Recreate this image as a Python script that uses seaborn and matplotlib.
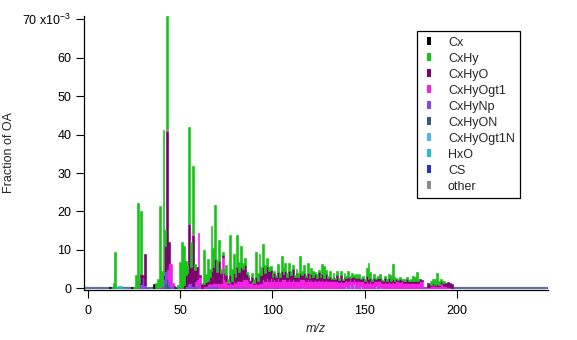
import numpy as np
import pandas as pd
import matplotlib
matplotlib.use("Agg")
import matplotlib.pyplot as plt
from matplotlib.lines import Line2D
import seaborn as sns

# ---------------- data (fraction of OA, units of 1e-3) ----------------
mz = list(range(12, 202))  # 190 m/z values, rows of 10 below start at 12, 22, 32 ...

CxHy = [
    0, 0.2, 1.5, 9.4, 0, 0, 0, 0, 0, 0,                 # 12-21
    0, 0, 0, 0.3, 3.4, 22.1, 1.0, 16.5, 0, 0,           # 22-31
    0, 0, 0, 0, 0, 1.3, 2.5, 21.0, 4.0, 37.5,           # 32-41
    4.2, 29.2, 0, 0, 0, 0, 0, 0.8, 6.8, 12.1,           # 42-51
    10.0, 3.5, 2.0, 25.0, 6.5, 17.5, 1.5, 0, 0, 0,      # 52-61
    0.5, 9.0, 2.0, 5.7, 2.0, 11.8, 5.0, 14.2, 3.0, 5.6, # 62-71
    1.0, 0.7, 1.0, 2.6, 1.0, 10.4, 3.0, 5.0, 2.0, 8.4,  # 72-81
    2.5, 5.6, 1.5, 2.0, 0.5, 0.5, 0, 1.0, 1.0, 6.4,     # 82-91
    2.0, 5.0, 2.0, 5.9, 2.0, 2.2, 1.0, 1.0, 1.0, 0.5,   # 92-101
    0.5, 2.0, 1.0, 4.0, 1.5, 2.0, 1.0, 2.0, 1.0, 1.0,   # 102-111
    0.5, 1.0, 1.0, 4.5, 1.0, 2.0, 0.5, 2.5, 0.5, 1.5,   # 112-121
    1.5, 0.5, 1.0, 0.5, 0.5, 2.5, 3.0, 1.0, 0.5, 1.5,   # 122-131
    0.5, 1.0, 0.5, 1.0, 0.5, 1.0, 0.3, 1.0, 0.5, 1.5,   # 132-141
    0.5, 1.0, 0.5, 1.0, 0.3, 1.0, 0.3, 0.5, 0.5, 2.0,   # 142-151
    4.0, 1.5, 0.5, 1.0, 0.3, 0.5, 1.0, 0.3, 0.3, 0.5,   # 152-161
    0.5, 1.0, 1.5, 4.0, 1.0, 0.3, 0.3, 0.5, 0.3, 0.3,   # 162-171
    0.3, 0.5, 0.3, 0.5, 1.5, 1.0, 2.5, 0.5, 0, 0,       # 172-181
    0, 0, 0, 0, 1.0, 1.0, 1.5, 3.0, 1.0, 0.5,           # 182-191
    0.5, 0.3, 0, 0, 0, 0, 0, 0, 0, 0,                   # 192-201
]

CxHyO = [
    0, 0, 0, 0, 0, 0, 0, 0, 0, 0,
    0, 0, 0, 0, 0, 0, 0.3, 2.6, 0.5, 8.0,
    0, 0, 0, 0, 0, 0, 0, 0, 0, 1.0,
    6.5, 36.0, 5.5, 0, 0, 0.5, 0, 0, 0, 0,
    0.9, 3.0, 3.0, 15.2, 4.0, 13.5, 3.0, 3.0, 0, 0.5,
    1.0, 0.5, 1.0, 1.0, 1.5, 3.5, 4.0, 6.0, 3.0, 5.5,
    2.5, 0.5, 1.5, 1.5, 0.5, 1.5, 1.0, 2.0, 1.5, 3.5,
    2.5, 3.5, 2.5, 3.5, 1.5, 1.0, 0.5, 1.0, 0.5, 1.5,
    1.0, 2.0, 2.0, 3.0, 2.0, 3.0, 2.5, 2.0, 1.0, 1.5,
    1.0, 1.5, 1.0, 2.0, 1.5, 2.0, 1.0, 2.0, 1.5, 2.5,
    1.0, 1.5, 1.0, 1.5, 1.0, 1.5, 1.0, 1.5, 1.0, 1.5,
    1.0, 1.5, 1.0, 2.0, 1.0, 1.5, 1.0, 1.5, 1.0, 1.0,
    0.5, 1.0, 0.5, 1.5, 0.5, 1.5, 0.5, 1.0, 0.5, 1.0,
    0.5, 1.0, 0.5, 1.0, 0.5, 1.0, 0.5, 1.0, 0.5, 1.5,
    1.0, 1.0, 0.5, 1.0, 0.5, 1.0, 1.0, 0.5, 0.5, 1.0,
    0.5, 1.0, 0.5, 0.8, 0.5, 0.5, 0.3, 0.8, 0.3, 0.5,
    0.5, 1.0, 0.5, 0.5, 0.5, 0.5, 0.5, 0.5, 0.3, 0.3,
    0, 0, 1.0, 0.8, 0.3, 0.5, 0.3, 0.5, 0.3, 0.5,
    0.5, 1.0, 1.0, 1.2, 1.2, 0.8, 0, 0, 0, 0,
]

CxHyOgt1 = [
    0, 0, 0, 0, 0, 0, 0, 0, 0, 0,
    0, 0, 0, 0, 0, 0, 0, 0, 0, 0,
    0, 0, 0, 0, 0, 0, 0, 0, 0, 0,
    0, 0, 4.5, 5.5, 1.0, 0, 0, 0, 0, 0,
    0, 0, 0, 0.5, 0, 0, 0, 2.0, 13.5, 3.0,
    0, 0.5, 0.5, 0.5, 1.0, 0.5, 1.0, 1.0, 0.5, 1.5,
    1.5, 8.2, 2.5, 2.0, 1.0, 1.5, 1.0, 1.5, 1.5, 1.5,
    1.5, 2.0, 2.0, 2.5, 2.0, 2.0, 1.5, 2.0, 1.0, 1.5,
    1.0, 2.0, 1.5, 2.0, 2.0, 2.5, 2.0, 2.5, 2.0, 2.5,
    2.0, 2.5, 2.0, 2.5, 2.0, 2.5, 2.0, 2.5, 2.0, 2.5,
    2.0, 2.5, 2.0, 2.5, 2.0, 2.5, 2.0, 2.5, 1.8, 2.2,
    2.0, 2.2, 1.8, 2.2, 2.0, 2.2, 1.8, 2.2, 1.8, 2.0,
    1.8, 2.0, 1.8, 2.0, 1.6, 2.0, 1.6, 2.0, 1.6, 2.0,
    1.5, 2.0, 1.5, 1.8, 1.5, 1.8, 1.5, 1.8, 1.5, 1.8,
    1.5, 1.8, 1.5, 1.8, 1.4, 1.8, 1.4, 1.6, 1.4, 1.6,
    1.4, 1.6, 1.4, 1.6, 1.5, 1.8, 1.8, 1.6, 1.8, 1.5,
    1.4, 1.5, 1.3, 1.5, 1.3, 1.5, 1.3, 1.5, 2.0, 1.8,
    0, 0, 0.3, 0.3, 0.5, 0.8, 0.5, 0.6, 0.5, 1.5,
    1.0, 0.5, 0.5, 0.4, 0.3, 0.2, 0, 0, 0, 0,
]

CxHyNp = [
    0, 0, 0, 0, 0, 0, 0, 0, 0, 0,
    0, 0, 0, 0, 0, 0, 1.2, 1.0, 3.0, 0.8,
    0, 0, 0, 0, 0, 0, 0, 0.3, 0.5, 2.5,
    3.5, 2.5, 1.5, 0.7, 0.5, 0, 0, 0, 0, 0,
    0, 0.5, 1.0, 1.0, 1.5, 0.5, 1.5, 0.5, 1.0, 0,
    0, 0, 0, 0.5, 0.5, 0.5, 0.5, 0.5, 0.5, 0,
    0, 0, 0, 0, 0, 0.5, 0, 0.5, 0, 0.5,
    0.3, 0, 0.5, 0, 0.3, 0, 0, 0, 0, 0,
    0, 0, 0, 0.5, 0, 0.3, 0, 0.3, 0, 0,
    0, 0.3, 0, 0, 0.3, 0, 0, 0, 0, 0,
    0, 0, 0, 0, 0, 0, 0, 0, 0, 0,
    0, 0, 0, 0, 0, 0, 0, 0, 0, 0,
    0, 0, 0, 0, 0, 0, 0, 0, 0, 0,
    0, 0, 0, 0, 0, 0, 0, 0, 0, 0,
    0, 0, 0, 0, 0, 0, 0, 0, 0, 0,
    0, 0, 0, 0, 0, 0, 0, 0, 0, 0,
    0, 0, 0, 0, 0, 0, 0, 0, 0, 0,
    0, 0, 0, 0, 0, 0, 0, 0, 0, 0,
    0, 0, 0, 0, 0, 0, 0, 0, 0, 0,
]

# minor families: {m/z: value}
Cx = {12: 0.3, 24: 0.3, 36: 1.2, 48: 0.2}
CxHyON = {42: 1.0, 43: 2.5, 44: 0.5, 58: 0.3, 70: 0.3}
CxHyOgt1N = {116: 0.4, 140: 0.6, 142: 0.8, 144: 1.0, 146: 0.8, 148: 0.5, 156: 0.5, 158: 0.4}
HxO = {16: 0.4, 17: 0.5, 18: 0.6, 19: 0.1, 20: 0.2}
CS = {32: 0.2, 48: 0.1, 64: 0.2}
other = {27: 0.2, 39: 0.2, 41: 0.3, 43: 0.6, 55: 0.4, 57: 0.3}

families = ["Cx", "CxHy", "CxHyO", "CxHyOgt1", "CxHyNp", "CxHyON",
            "CxHyOgt1N", "HxO", "CS", "other"]
colors = ["#000000", "#17c317", "#7a006e", "#f71ee3", "#8c44e6", "#2f5f78",
          "#52b4f0", "#1fbfc4", "#2b2fd6", "#8a8a8a"]

# ---------------- build long table ----------------
rows = []
full = {"CxHy": CxHy, "CxHyO": CxHyO, "CxHyOgt1": CxHyOgt1, "CxHyNp": CxHyNp}
sparse = {"Cx": Cx, "CxHyON": CxHyON, "CxHyOgt1N": CxHyOgt1N, "HxO": HxO,
          "CS": CS, "other": other}
for fam, vals in full.items():
    for m, v in zip(mz, vals):
        rows.append((m, fam, v))
for fam, d in sparse.items():
    for m in mz:
        rows.append((m, fam, d.get(m, 0.0)))
df = pd.DataFrame(rows, columns=["mz", "family", "frac"])

# stacking order: first level ends on top
stack_order = ["CxHy", "other", "CxHyO", "CxHyOgt1", "CxHyNp", "CxHyOgt1N",
               "CxHyON", "CS", "HxO", "Cx"]
palette = dict(zip(families, colors))

# ---------------- plot ----------------
sns.set_theme(style="white")
plt.rcParams["font.family"] = ["Liberation Sans", "DejaVu Sans"]
plt.rcParams["mathtext.fontset"] = "custom"
plt.rcParams["mathtext.rm"] = "Liberation Sans"
plt.rcParams["mathtext.it"] = "Liberation Sans:italic"

fig = plt.figure(figsize=(5.77, 3.40), dpi=100)
ax = fig.add_axes([84 / 577, 50 / 340, 464 / 577, 274 / 340])

ax.axhline(0, color="#6073a0", lw=1.6, zorder=0)
sns.histplot(data=df, x="mz", weights="frac", hue="family", hue_order=stack_order,
             palette=palette, multiple="stack", discrete=True, shrink=1.0,
             element="bars", linewidth=0, alpha=1, legend=False, ax=ax, zorder=2)
# close the anti-aliasing seams between neighbouring bars
for p in ax.patches:
    if p.get_height() > 0:
        p.set_edgecolor(p.get_facecolor())
        p.set_linewidth(0.45)

ax.set_xlim(-2, 249.1)
ax.set_ylim(-0.44, 70.86)
ax.set_xlabel("")
ax.set_ylabel("")

for s in ["top", "right"]:
    ax.spines[s].set_visible(False)
for s in ["left", "bottom"]:
    ax.spines[s].set_color("black")
    ax.spines[s].set_linewidth(0.9)

ax.set_xticks([0, 50, 100, 150, 200])
ax.set_yticks([0, 10, 20, 30, 40, 50, 60, 70])
ax.set_yticklabels(["0", "10", "20", "30", "40", "50", "60", r"70 x10$^{\mathregular{-3}}$"])
ax.tick_params(axis="both", which="major", direction="out", length=6, width=0.8,
               color="black", labelsize=9, labelcolor="black", left=True, bottom=True)
ax.tick_params(axis="y", pad=3)
ax.tick_params(axis="x", pad=5)

fig.text(9 / 577, 1 - 153 / 340, "Fraction of OA", rotation=90, ha="center",
         va="center", fontsize=9)
fig.text(316 / 577, 1 - 329 / 340, "m/z", style="italic", ha="center", va="center",
         fontsize=9)

handles = [Line2D([], [], linestyle="none",
                  marker=[(-0.2, -0.5), (0.2, -0.5), (0.2, 0.5), (-0.2, 0.5)],
                  markersize=5.5, markerfacecolor=c, markeredgecolor=c, markeredgewidth=0)
           for c in colors]
leg = ax.legend(handles, families, loc="upper left", bbox_to_anchor=(0.717, 0.945),
                frameon=True, fancybox=False, edgecolor="black", framealpha=1,
                fontsize=9, handlelength=1.0, handletextpad=1.05, borderpad=0.45,
                labelspacing=0.32, borderaxespad=0)
leg.get_frame().set_linewidth(0.9)

fig.savefig("out.png", dpi=100)
